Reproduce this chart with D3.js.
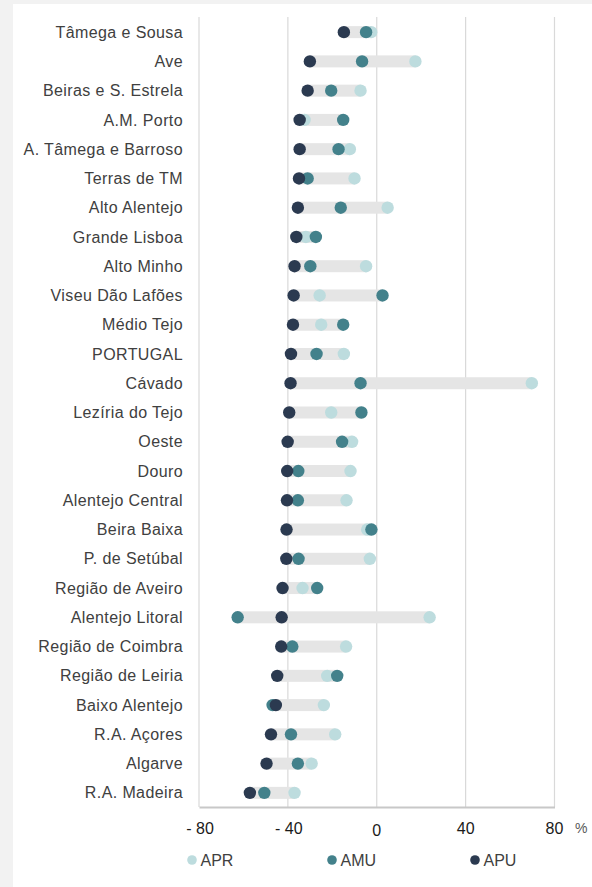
<!DOCTYPE html>
<html><head><meta charset="utf-8">
<script src="https://cdn.jsdelivr.net/npm/d3@7"></script>
<style>
html,body{margin:0;padding:0;background:#f2f2f2;}
svg{display:block;}
text{font-family:"Liberation Sans",Arial,sans-serif;}
</style></head>
<body>
<svg id="c" width="592" height="887"></svg>
<script>
const categories = ["Tâmega e Sousa","Ave","Beiras e S. Estrela","A.M. Porto","A. Tâmega e Barroso","Terras de TM","Alto Alentejo","Grande Lisboa","Alto Minho","Viseu Dão Lafões","Médio Tejo","PORTUGAL","Cávado","Lezíria do Tejo","Oeste","Douro","Alentejo Central","Beira Baixa","P. de Setúbal","Região de Aveiro","Alentejo Litoral","Região de Coimbra","Região de Leiria","Baixo Alentejo","R.A. Açores","Algarve","R.A. Madeira"];
const APR = [-2.5,17.4,-7.3,-32.5,-12.1,-10.0,4.9,-31.9,-4.8,-25.7,-25.0,-14.8,69.8,-20.5,-11.1,-11.8,-13.6,-4.3,-3.1,-33.4,23.8,-13.8,-22.3,-23.8,-18.7,-29.3,-37.0];
const AMU = [-4.8,-6.6,-20.5,-15.1,-17.2,-31.1,-16.2,-27.4,-29.9,2.6,-15.1,-27.1,-7.3,-6.9,-15.6,-35.3,-35.5,-2.4,-35.2,-26.8,-62.6,-38.0,-17.8,-46.9,-38.6,-35.5,-50.6];
const APU = [-14.8,-30.1,-31.1,-34.7,-34.7,-35.0,-35.5,-36.2,-37.0,-37.4,-37.7,-38.6,-38.8,-39.4,-40.1,-40.3,-40.4,-40.6,-40.7,-42.4,-42.8,-43.0,-44.8,-45.4,-47.6,-49.6,-57.1];
const ticks = [-80,-40,0,40,80];
const seriesNames = ["APR","AMU","APU"];
const colors = ["#bddcde","#43818b","#2b3a50"];

const svg = d3.select("#c");
svg.append("rect").attr("x",13).attr("y",4).attr("width",592-13).attr("height",887-4).attr("fill","#fff");

const x = d3.scaleLinear().domain([-80,80]).range([199,554.5]);
const y = d3.scaleBand().domain(categories).range([17.5,807.5]).paddingInner(0).paddingOuter(0);
const yc = c => y(c) + y.bandwidth()/2;

// gridlines
svg.append("g").selectAll("line").data(ticks).join("line")
  .attr("x1",d=>x(d)).attr("x2",d=>x(d)).attr("y1",17).attr("y2",807)
  .attr("stroke","#d9d9d9").attr("stroke-width",1.2);

// axis
const ax = svg.append("g").attr("transform","translate(0,807)")
  .call(d3.axisBottom(x).tickValues(ticks).tickSize(0).tickFormat(d=> d<0 ? "- "+Math.abs(d) : String(d)));
ax.select(".domain").attr("stroke","#c8c8c8").attr("stroke-width",2);
ax.selectAll("text").attr("font-size",16).attr("fill","#1a1a1a")
  .attr("dy","0").attr("y",d=> d===0 ? 28.5 : 27);
ax.selectAll(".tick").attr("transform",d=>"translate("+(x(d)+(d<0?1:0))+",0)");
svg.append("text").attr("x",575).attr("y",833).attr("font-size",14).attr("fill","#595959").text("%");

// category labels
svg.append("g").selectAll("text").data(categories).join("text")
  .attr("x",183).attr("y",c=>yc(c)).attr("dy","0.35em").attr("text-anchor","end")
  .attr("font-size",16).attr("letter-spacing","0.4").attr("fill","#404040").text(c=>c);

// range bars
const rows = categories.map((c,i)=>({c, v:[APR[i],AMU[i],APU[i]]}));
svg.append("g").selectAll("rect").data(rows).join("rect")
  .attr("x",d=>x(d3.min(d.v))).attr("width",d=>x(d3.max(d.v))-x(d3.min(d.v)))
  .attr("y",d=>yc(d.c)-6).attr("height",12).attr("fill","#e5e5e5");

// dots
const series = [APR,AMU,APU];
series.forEach((vals,si)=>{
  svg.append("g").selectAll("circle").data(categories).join("circle")
    .attr("cx",(c,i)=>x(vals[i])).attr("cy",c=>yc(c)).attr("r",6.2).attr("fill",colors[si]);
});

// legend
const legX = [192,332,475];
const lg = svg.append("g");
seriesNames.forEach((n,i)=>{
  lg.append("circle").attr("cx",legX[i]).attr("cy",860).attr("r",4.8).attr("fill",colors[i]);
  lg.append("text").attr("x",legX[i]+8.5).attr("y",860).attr("dy","0.36em").attr("font-size",16)
    .attr("fill","#404040").text(n);
});
</script>
</body></html>
